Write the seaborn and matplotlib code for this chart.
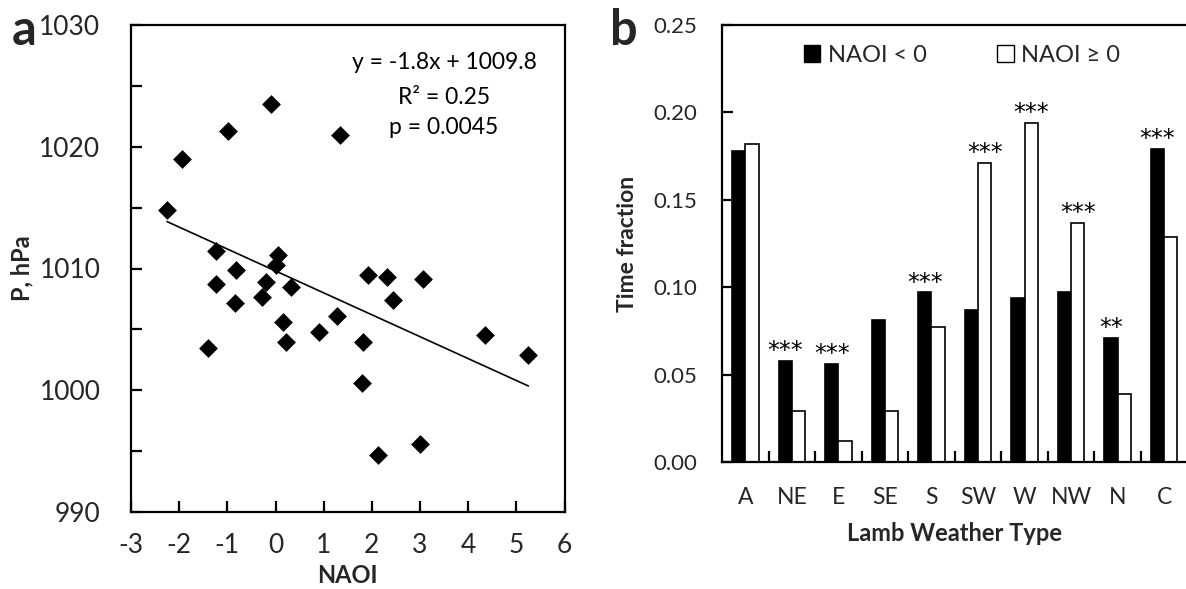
import numpy as np
import pandas as pd
import matplotlib
matplotlib.use("Agg")
import matplotlib.pyplot as plt
from matplotlib.patches import Patch
from matplotlib.ticker import MultipleLocator, FixedLocator, FormatStrFormatter
import seaborn as sns

# ---- Panel a: mean sea-level pressure vs. NAO index ----
naoi = [-2.25, -1.95, -0.98, -0.10, 1.33, -1.24, -1.24, -0.81, -0.85, -1.41,
        -0.28, -0.19, 0.06, 0.01, 0.33, 0.16, 0.21, 0.90, 1.27, 1.81,
        1.80, 1.93, 2.31, 2.43, 3.07, 2.12, 3.00, 4.35, 5.25]
pressure = [1014.8, 1019.0, 1021.3, 1023.5, 1021.0, 1011.4, 1008.7, 1009.9, 1007.2, 1003.5,
            1007.7, 1008.9, 1011.1, 1010.3, 1008.5, 1005.6, 1004.0, 1004.8, 1006.1, 1004.0,
            1000.6, 1009.5, 1009.3, 1007.4, 1009.1, 994.7, 995.6, 1004.5, 1002.9]
slope = -1.8
intercept = 1009.8
r_squared = 0.25
p_value = 0.0045

# ---- Panel b: Lamb weather type frequencies by NAO phase ----
weather_types = ["A", "NE", "E", "SE", "S", "SW", "W", "NW", "N", "C"]
frac_negative = [0.178, 0.058, 0.056, 0.081, 0.097, 0.087, 0.094, 0.097, 0.071, 0.179]
frac_positive = [0.182, 0.029, 0.012, 0.029, 0.077, 0.171, 0.194, 0.137, 0.039, 0.129]
significance = ["", "***", "***", "", "***", "***", "***", "***", "**", "***"]
group_labels = ["NAOI < 0", "NAOI \u2265 0"]

sns.set_theme(style="white")
plt.rcParams["font.family"] = ["Lato", "DejaVu Sans"]
plt.rcParams["axes.unicode_minus"] = False

W, H = 1186, 589
fig = plt.figure(figsize=(W / 100, H / 100), dpi=100)


def px_axes(left, top, right, bottom):
    return fig.add_axes([left / W, 1 - bottom / H, (right - left) / W, (bottom - top) / H])


spine_lw = 1.6

# ================= Panel a =================
ax1 = px_axes(131, 25, 564.5, 512)
scatter_df = pd.DataFrame({"NAOI": naoi, "P": pressure})
sns.scatterplot(data=scatter_df, x="NAOI", y="P", marker="D", s=92, color="black",
                linewidth=0, ax=ax1, zorder=3)
fit_x = np.array([min(naoi), max(naoi)])
fit_df = pd.DataFrame({"NAOI": fit_x, "P": slope * fit_x + intercept})
sns.lineplot(data=fit_df, x="NAOI", y="P", color="black", linewidth=1.2, ax=ax1, zorder=2)

ax1.set_xlim(-3, 6)
ax1.set_ylim(990, 1030)
ax1.xaxis.set_major_locator(MultipleLocator(1))
ax1.yaxis.set_major_locator(MultipleLocator(10))
ax1.yaxis.set_minor_locator(MultipleLocator(5))
ax1.tick_params(axis="y", which="both", direction="in", length=8, width=spine_lw,
                labelsize=19, pad=22, left=True, color="black")
ax1.tick_params(axis="x", which="both", direction="in", length=8, width=spine_lw,
                labelsize=19, pad=15, bottom=True, color="black")
for sp in ax1.spines.values():
    sp.set_linewidth(spine_lw)
    sp.set_color("black")
    sp.set_visible(True)

ax1.set_ylabel("P, hPa", fontsize=17, fontweight="bold", va="center")
ax1.yaxis.set_label_coords(-0.251, 0.5)
ax1.set_xlabel("NAOI", fontsize=17, fontweight="bold", va="center")
ax1.xaxis.set_label_coords(0.5, -0.131)

stats_lines = [f"y = {slope}x + {intercept}", f"R\u00b2 = {r_squared}", f"p = {p_value}"]
for yy, line in zip([0.922, 0.852, 0.789], stats_lines):
    ax1.text(0.722, yy, line, transform=ax1.transAxes, ha="center", va="center",
             fontsize=16.5, color="black")

# ================= Panel b =================
ax2 = px_axes(722, 25, 1187.5, 462)
bars_df = pd.DataFrame({
    "type": weather_types * 2,
    "phase": [group_labels[0]] * len(weather_types) + [group_labels[1]] * len(weather_types),
    "fraction": frac_negative + frac_positive,
})
sns.barplot(data=bars_df, x="type", y="fraction", hue="phase", order=weather_types,
            hue_order=group_labels, palette={group_labels[0]: "black", group_labels[1]: "white"},
            width=0.57, edgecolor="black", linewidth=1.2, errorbar=None, legend=False,
            ax=ax2, zorder=2)

ax2.set_xlim(-0.5, 9.5)
ax2.set_ylim(0, 0.25)
ax2.yaxis.set_major_locator(MultipleLocator(0.05))
ax2.yaxis.set_major_formatter(FormatStrFormatter("%.2f"))
ax2.xaxis.set_minor_locator(FixedLocator(np.arange(0.5, 9, 1.0)))
ax2.tick_params(axis="y", which="major", direction="in", length=8, width=spine_lw,
                labelsize=16, pad=18, left=True, color="black")
ax2.tick_params(axis="x", which="major", length=0, labelsize=16.5, pad=18)
ax2.tick_params(axis="x", which="minor", direction="in", length=8, width=spine_lw,
                bottom=True, color="black")
for sp in ax2.spines.values():
    sp.set_linewidth(spine_lw)
    sp.set_color("black")
    sp.set_visible(True)

ax2.set_ylabel("Time fraction", fontsize=16.5, fontweight="bold", va="center")
ax2.yaxis.set_label_coords(-0.204, 0.5)
ax2.set_xlabel("Lamb Weather Type", fontsize=17, fontweight="bold", va="center")
ax2.xaxis.set_label_coords(0.5, -0.1625)

# significance stars above the taller bar of each pair
neg_bars, pos_bars = ax2.containers[0], ax2.containers[1]
for stars, bn, bp in zip(significance, neg_bars, pos_bars):
    if not stars:
        continue
    bar = bn if bn.get_height() >= bp.get_height() else bp
    ax2.annotate(stars, (bar.get_x() + bar.get_width() / 2, bar.get_height()),
                 xytext=(0, 2), textcoords="offset points", ha="center", va="baseline",
                 fontsize=17, family="DejaVu Sans", color="black")

handles = [Patch(facecolor="black", edgecolor="black", linewidth=1.0),
           Patch(facecolor="white", edgecolor="black", linewidth=1.0)]
ax2.legend(handles, group_labels, loc="center left", bbox_to_anchor=(0.176, 0.931),
           ncol=2, frameon=False, fontsize=17, handlelength=0.7, handleheight=0.7,
           handletextpad=0.3, columnspacing=3.0, borderpad=0, borderaxespad=0)

# panel letters
fig.text(12 / W, 1 - 45 / H, "a", fontsize=35, fontweight="bold", ha="left", va="baseline")
fig.text(610 / W, 1 - 45 / H, "b", fontsize=35, fontweight="bold", ha="left", va="baseline")

fig.savefig("out.png", dpi=100, facecolor="white")
